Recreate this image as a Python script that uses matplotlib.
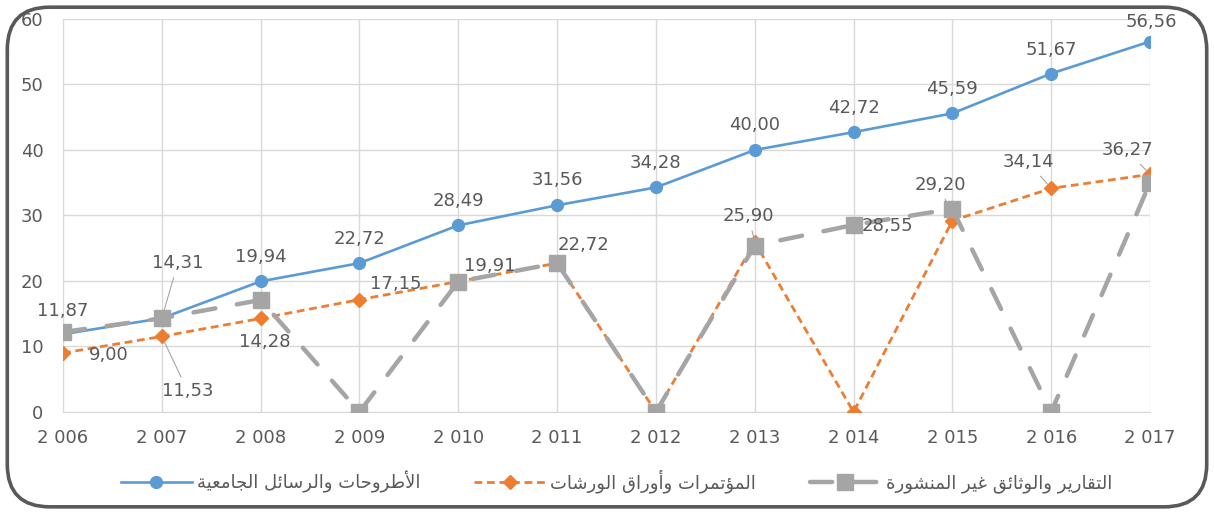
"""Line chart: growth of three document types, 2006-2017."""

import matplotlib
matplotlib.use("Agg")
import matplotlib.pyplot as plt
from matplotlib.patches import FancyBboxPatch

years = ["2 006", "2 007", "2 008", "2 009", "2 010", "2 011",
         "2 012", "2 013", "2 014", "2 015", "2 016", "2 017"]

theses = [11.87, 14.31, 19.94, 22.72, 28.49, 31.56, 34.28, 40.00, 42.72, 45.59, 51.67, 56.56]
conferences = [9.00, 11.53, 14.28, 17.15, 19.91, 22.72, 0, 25.90, 0, 29.20, 34.14, 36.27]
reports = [12.2, 14.3, 17.1, 0, 19.9, 22.72, 0, 25.4, 28.55, 31.0, 0, 35.0]

name_theses = "الأطروحات والرسائل الجامعية"
name_conferences = "المؤتمرات وأوراق الورشات"
name_reports = "التقارير والوثائق غير المنشورة"

# matplotlib has no Arabic shaping: map letters to presentation forms
# (isolated, final, initial, medial) and reverse for visual order
FORMS = {
    "ا": ("\ufe8d", "\ufe8e"),
    "أ": ("\ufe83", "\ufe84"),
    "ؤ": ("\ufe85", "\ufe86"),
    "ئ": ("\ufe89", "\ufe8a", "\ufe8b", "\ufe8c"),
    "ة": ("\ufe93", "\ufe94"),
    "ت": ("\ufe95", "\ufe96", "\ufe97", "\ufe98"),
    "ث": ("\ufe99", "\ufe9a", "\ufe9b", "\ufe9c"),
    "ج": ("\ufe9d", "\ufe9e", "\ufe9f", "\ufea0"),
    "ح": ("\ufea1", "\ufea2", "\ufea3", "\ufea4"),
    "ر": ("\ufead", "\ufeae"),
    "س": ("\ufeb1", "\ufeb2", "\ufeb3", "\ufeb4"),
    "ش": ("\ufeb5", "\ufeb6", "\ufeb7", "\ufeb8"),
    "ط": ("\ufec1", "\ufec2", "\ufec3", "\ufec4"),
    "ع": ("\ufec9", "\ufeca", "\ufecb", "\ufecc"),
    "غ": ("\ufecd", "\ufece", "\ufecf", "\ufed0"),
    "ق": ("\ufed5", "\ufed6", "\ufed7", "\ufed8"),
    "ل": ("\ufedd", "\ufede", "\ufedf", "\ufee0"),
    "م": ("\ufee1", "\ufee2", "\ufee3", "\ufee4"),
    "ن": ("\ufee5", "\ufee6", "\ufee7", "\ufee8"),
    "و": ("\ufeed", "\ufeee"),
    "ي": ("\ufef1", "\ufef2", "\ufef3", "\ufef4"),
}
LAM_ALEF = {"ا": ("\ufefb", "\ufefc"), "أ": ("\ufef7", "\ufef8")}


def shape(text):
    out = []
    i = 0
    prev_joins = False
    while i < len(text):
        c = text[i]
        if c not in FORMS:
            out.append(c)
            prev_joins = False
            i += 1
            continue
        if c == "ل" and i + 1 < len(text) and text[i + 1] in LAM_ALEF:
            iso, fin = LAM_ALEF[text[i + 1]]
            out.append(fin if prev_joins else iso)
            prev_joins = False
            i += 2
            continue
        f = FORMS[c]
        nxt = text[i + 1] if i + 1 < len(text) else None
        next_ok = len(f) == 4 and nxt in FORMS
        if prev_joins and next_ok:
            g = f[3]
        elif prev_joins:
            g = f[1]
        elif next_ok:
            g = f[2]
        else:
            g = f[0]
        out.append(g)
        prev_joins = len(f) == 4
        i += 1
    return "".join(reversed(out))


BLUE = "#5B9BD5"
ORANGE = "#ED7D31"
GRAY = "#A5A5A5"
TXT = "#595959"
GRID = "#D9D9D9"

plt.rcParams["font.family"] = ["DejaVu Sans"]

fig = plt.figure(figsize=(12.14, 5.13), dpi=100)
ax = fig.add_axes([0.0519, 0.197, 0.8954, 0.766])

x = list(range(len(years)))
ax.plot(x, theses, color=BLUE, lw=1.9, marker="o", ms=8.5, zorder=3,
        label=shape(name_theses))
ax.plot(x, conferences, color=ORANGE, lw=2.0, dashes=(2.8, 1.7), marker="D", ms=7.5,
        zorder=4, label=shape(name_conferences))
ax.plot(x, reports, color=GRAY, lw=3.2, dashes=(5.0, 4.9), dash_capstyle="round",
        marker="s", ms=11, zorder=5, label=shape(name_reports))

ax.set_xlim(0, len(years) - 1)
ax.set_ylim(0, 60)
ax.set_yticks(range(0, 61, 10))
ax.set_xticks(x)
ax.set_xticklabels(years)
ax.grid(True, color=GRID, lw=1)
ax.set_axisbelow(True)
for side in ["top", "right", "left"]:
    ax.spines[side].set_visible(False)
ax.spines["bottom"].set_color(GRID)
ax.tick_params(axis="both", length=0, labelsize=13, colors=TXT)
ax.tick_params(axis="y", pad=14)
ax.tick_params(axis="x", pad=12)

# data labels: (series, index, dx px, dy px, leader line)
labels = [
    (theses, 0, 0, 23, False), (theses, 1, 16, 55, True), (theses, 2, 0, 24, False),
    (theses, 3, 0, 24, False), (theses, 4, 0, 24, False), (theses, 5, 0, 25, False),
    (theses, 6, 0, 24, False), (theses, 7, 0, 25, False), (theses, 8, 0, 24, False),
    (theses, 9, 0, 24, False), (theses, 10, 0, 24, False), (theses, 11, 1, 20, False),
    (conferences, 0, 46, -2, False), (conferences, 1, 26, -55, True),
    (conferences, 2, 4, -24, False), (conferences, 3, 36, 16, False),
    (conferences, 4, 31, 16, False), (conferences, 5, 26, 18, False),
    (conferences, 7, -6, 26, True), (conferences, 9, -12, 36, True),
    (conferences, 10, -23, 26, True), (conferences, 11, -23, 24, True),
    (reports, 8, 34, -1, False),
]
for series, i, dx, dy, leader in labels:
    txt = f"{series[i]:.2f}".replace(".", ",")
    arrow = dict(arrowstyle="-", color="#A6A6A6", lw=0.8, shrinkA=2, shrinkB=4) if leader else None
    ax.annotate(txt, xy=(i, series[i]), xytext=(dx, dy), textcoords="offset pixels",
                ha="center", va="center", fontsize=13, color=TXT, zorder=6,
                arrowprops=arrow, annotation_clip=False)

leg = fig.legend(loc="center", bbox_to_anchor=(0.508, 0.062), ncol=3, frameon=False,
                 fontsize=13, handlelength=3.9, columnspacing=3.0, handletextpad=0.3)
for t in leg.get_texts():
    t.set_color(TXT)

border = FancyBboxPatch((0.006, 0.012), 0.988, 0.974, boxstyle="round,pad=0,rounding_size=0.035",
                        transform=fig.transFigure, fill=False, edgecolor="#595959", lw=2.6,
                        mutation_aspect=1214 / 513)
fig.patches.append(border)

fig.savefig("out.png", dpi=100)
